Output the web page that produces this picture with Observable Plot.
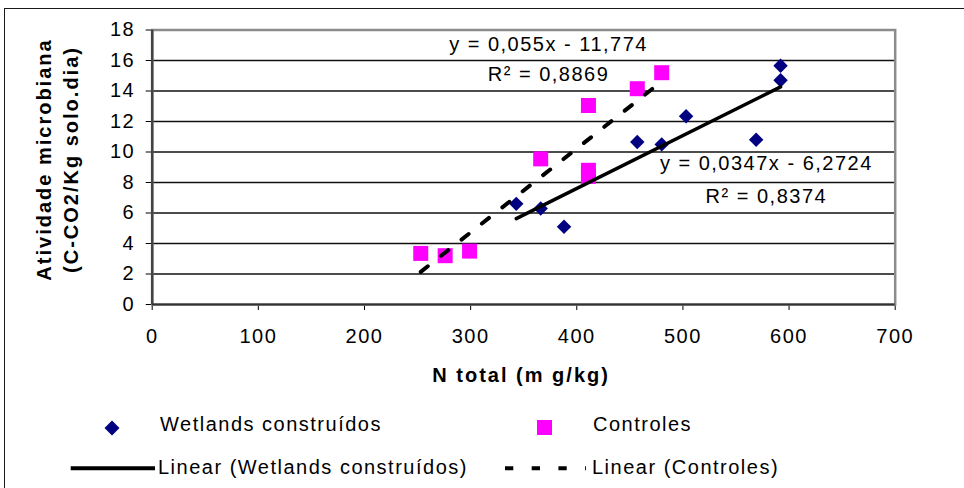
<!DOCTYPE html>
<html><head><meta charset="utf-8">
<script src="https://cdn.jsdelivr.net/npm/d3@7"></script>
<script src="https://cdn.jsdelivr.net/npm/@observablehq/plot@0.6"></script>
<style>
html,body{margin:0;padding:0;background:#fff;overflow:hidden;width:964px;height:488px;}
#wrap{position:relative;width:964px;height:488px;font-family:"Liberation Sans",Arial,sans-serif;}
#border{position:absolute;left:4px;top:8px;width:1000px;height:600px;border:1.5px solid #1a1a1a;box-sizing:border-box;}
#chart{position:absolute;left:0;top:0;}
#chart svg text{letter-spacing:1.5px;}
#chart svg g[font-weight="bold"] text{letter-spacing:2px;}
.lg{position:absolute;font-size:20px;line-height:20px;letter-spacing:1.5px;white-space:nowrap;color:#000;}
.sym{position:absolute;overflow:visible;}
</style></head><body>
<div id="wrap"><div id="border"></div><div id="chart"></div><div id="legend"></div></div>
<script>
// ---- data ----
const wetlandsN = [343, 366, 388, 457, 480, 503, 569, 592, 592];
const wetlandsAtividade = [6.6, 6.3, 5.1, 10.65, 10.5, 12.35, 10.8, 14.7, 15.65];
const controlesN = [253, 276, 299, 366, 411, 411, 411, 457, 480];
const controlesAtividade = [3.35, 3.2, 3.5, 9.55, 13.05, 8.8, 8.4, 14.15, 15.2];
const trendSlope = [0.0347, 0.055];
const trendIntercept = [-6.2724, -11.774];
const equations = ["y = 0,0347x - 6,2724", "y = 0,055x - 11,774"];
const r2labels = ["R² = 0,8374", "R² = 0,8869"];
const xTicks = [0, 100, 200, 300, 400, 500, 600, 700];
const yTicks = [0, 2, 4, 6, 8, 10, 12, 14, 16, 18];
const xTitle = "N total (m g/kg)";
const yTitle = ["Atividade microbiana", "(C-CO2/Kg solo.dia)"];
const seriesNames = ["Wetlands construídos", "Controles", "Linear (Wetlands construídos)", "Linear (Controles)"];

const wet = wetlandsN.map((n, i) => ({n, a: wetlandsAtividade[i]}));
const ctl = controlesN.map((n, i) => ({n, a: controlesAtividade[i]}));
function trend(ns, k) {
  const lo = d3.min(ns), hi = d3.max(ns);
  return [lo, hi].map(n => ({n, a: trendSlope[k] * n + trendIntercept[k]}));
}

const plot = Plot.plot({
  width: 964, height: 400,
  marginTop: 29.5, marginRight: 69.3, marginBottom: 96, marginLeft: 151.7,
  style: {background: "none", fontFamily: "'Liberation Sans', Arial, sans-serif", fontSize: "20px", color: "#000", overflow: "visible"},
  x: {domain: [0, 700], ticks: xTicks, tickSize: 6, tickPadding: 18, label: null},
  y: {domain: [0, 18], ticks: yTicks, tickSize: 6, tickPadding: 11, label: null},
  marks: [
    Plot.ruleY(yTicks.filter(v => v > 0 && v < 18), {stroke: "#111", strokeWidth: 1.3}),
    Plot.frame({stroke: "#8c8c8c", strokeWidth: 2.5}),
    Plot.ruleX([0], {stroke: "#444", strokeWidth: 2.5}),
    Plot.ruleY([0], {stroke: "#333", strokeWidth: 2}),
    Plot.dot(wet, {x: "n", y: "a", symbol: "diamond2", r: 6.5, fill: "#000080"}),
    Plot.dot(ctl, {x: "n", y: "a", symbol: "square", r: 8.46, fill: "#FF00FF"}),
    Plot.line(trend(wetlandsN, 0), {x: "n", y: "a", stroke: "#000", strokeWidth: 3.5}),
    Plot.line(trend(controlesN, 1), {x: "n", y: "a", stroke: "#000", strokeWidth: 4, strokeDasharray: "9 17"}),
    Plot.text([equations[1]], {x: 373.4, y: 17.05, text: d => d, fontSize: 20}),
    Plot.text([r2labels[1]], {x: 373.4, y: 15.05, text: d => d, fontSize: 20}),
    Plot.text([equations[0]], {x: 578.6, y: 9.24, text: d => d, fontSize: 20}),
    Plot.text([r2labels[0]], {x: 578.6, y: 7.05, text: d => d, fontSize: 20}),
    Plot.text([xTitle], {frameAnchor: "bottom", dy: 77, dx: -2.6, fontWeight: "bold", fontSize: 20, textAnchor: "middle", text: d => d}),
    Plot.text([yTitle[0]], {frameAnchor: "left", dx: -108, dy: -7.75, rotate: -90, textAnchor: "middle", fontWeight: "bold", fontSize: 20, text: d => d}),
    Plot.text([yTitle[1]], {frameAnchor: "left", dx: -80.7, dy: -7.75, rotate: -90, textAnchor: "middle", fontWeight: "bold", fontSize: 20, text: d => d})
  ]
});
document.getElementById("chart").appendChild(plot);

// ---- legend (below the SVG) ----
const lg = document.getElementById("legend");
lg.innerHTML = `
<svg class="sym" style="left:104px;top:420px" width="16" height="16"><polygon points="8,0.5 15.5,8 8,15.5 0.5,8" fill="#000080"/></svg>
<svg class="sym" style="left:536.5px;top:419.5px" width="15" height="15"><rect width="15" height="15" fill="#FF00FF"/></svg>
<svg class="sym" style="left:70px;top:464px" width="86" height="8"><line x1="0.7" y1="4.3" x2="85" y2="4.3" stroke="#000" stroke-width="4"/></svg>
<svg class="sym" style="left:505px;top:464px" width="82" height="8"><line x1="0" y1="4.3" x2="81" y2="4.3" stroke="#000" stroke-width="4" stroke-dasharray="8.3 18.4"/></svg>
<span class="lg" style="left:160px;top:414px">${seriesNames[0]}</span>
<span class="lg" style="left:593px;top:414px">${seriesNames[1]}</span>
<span class="lg" style="left:158px;top:457px">${seriesNames[2]}</span>
<span class="lg" style="left:592px;top:457px">${seriesNames[3]}</span>
`;
</script>
</body></html>
